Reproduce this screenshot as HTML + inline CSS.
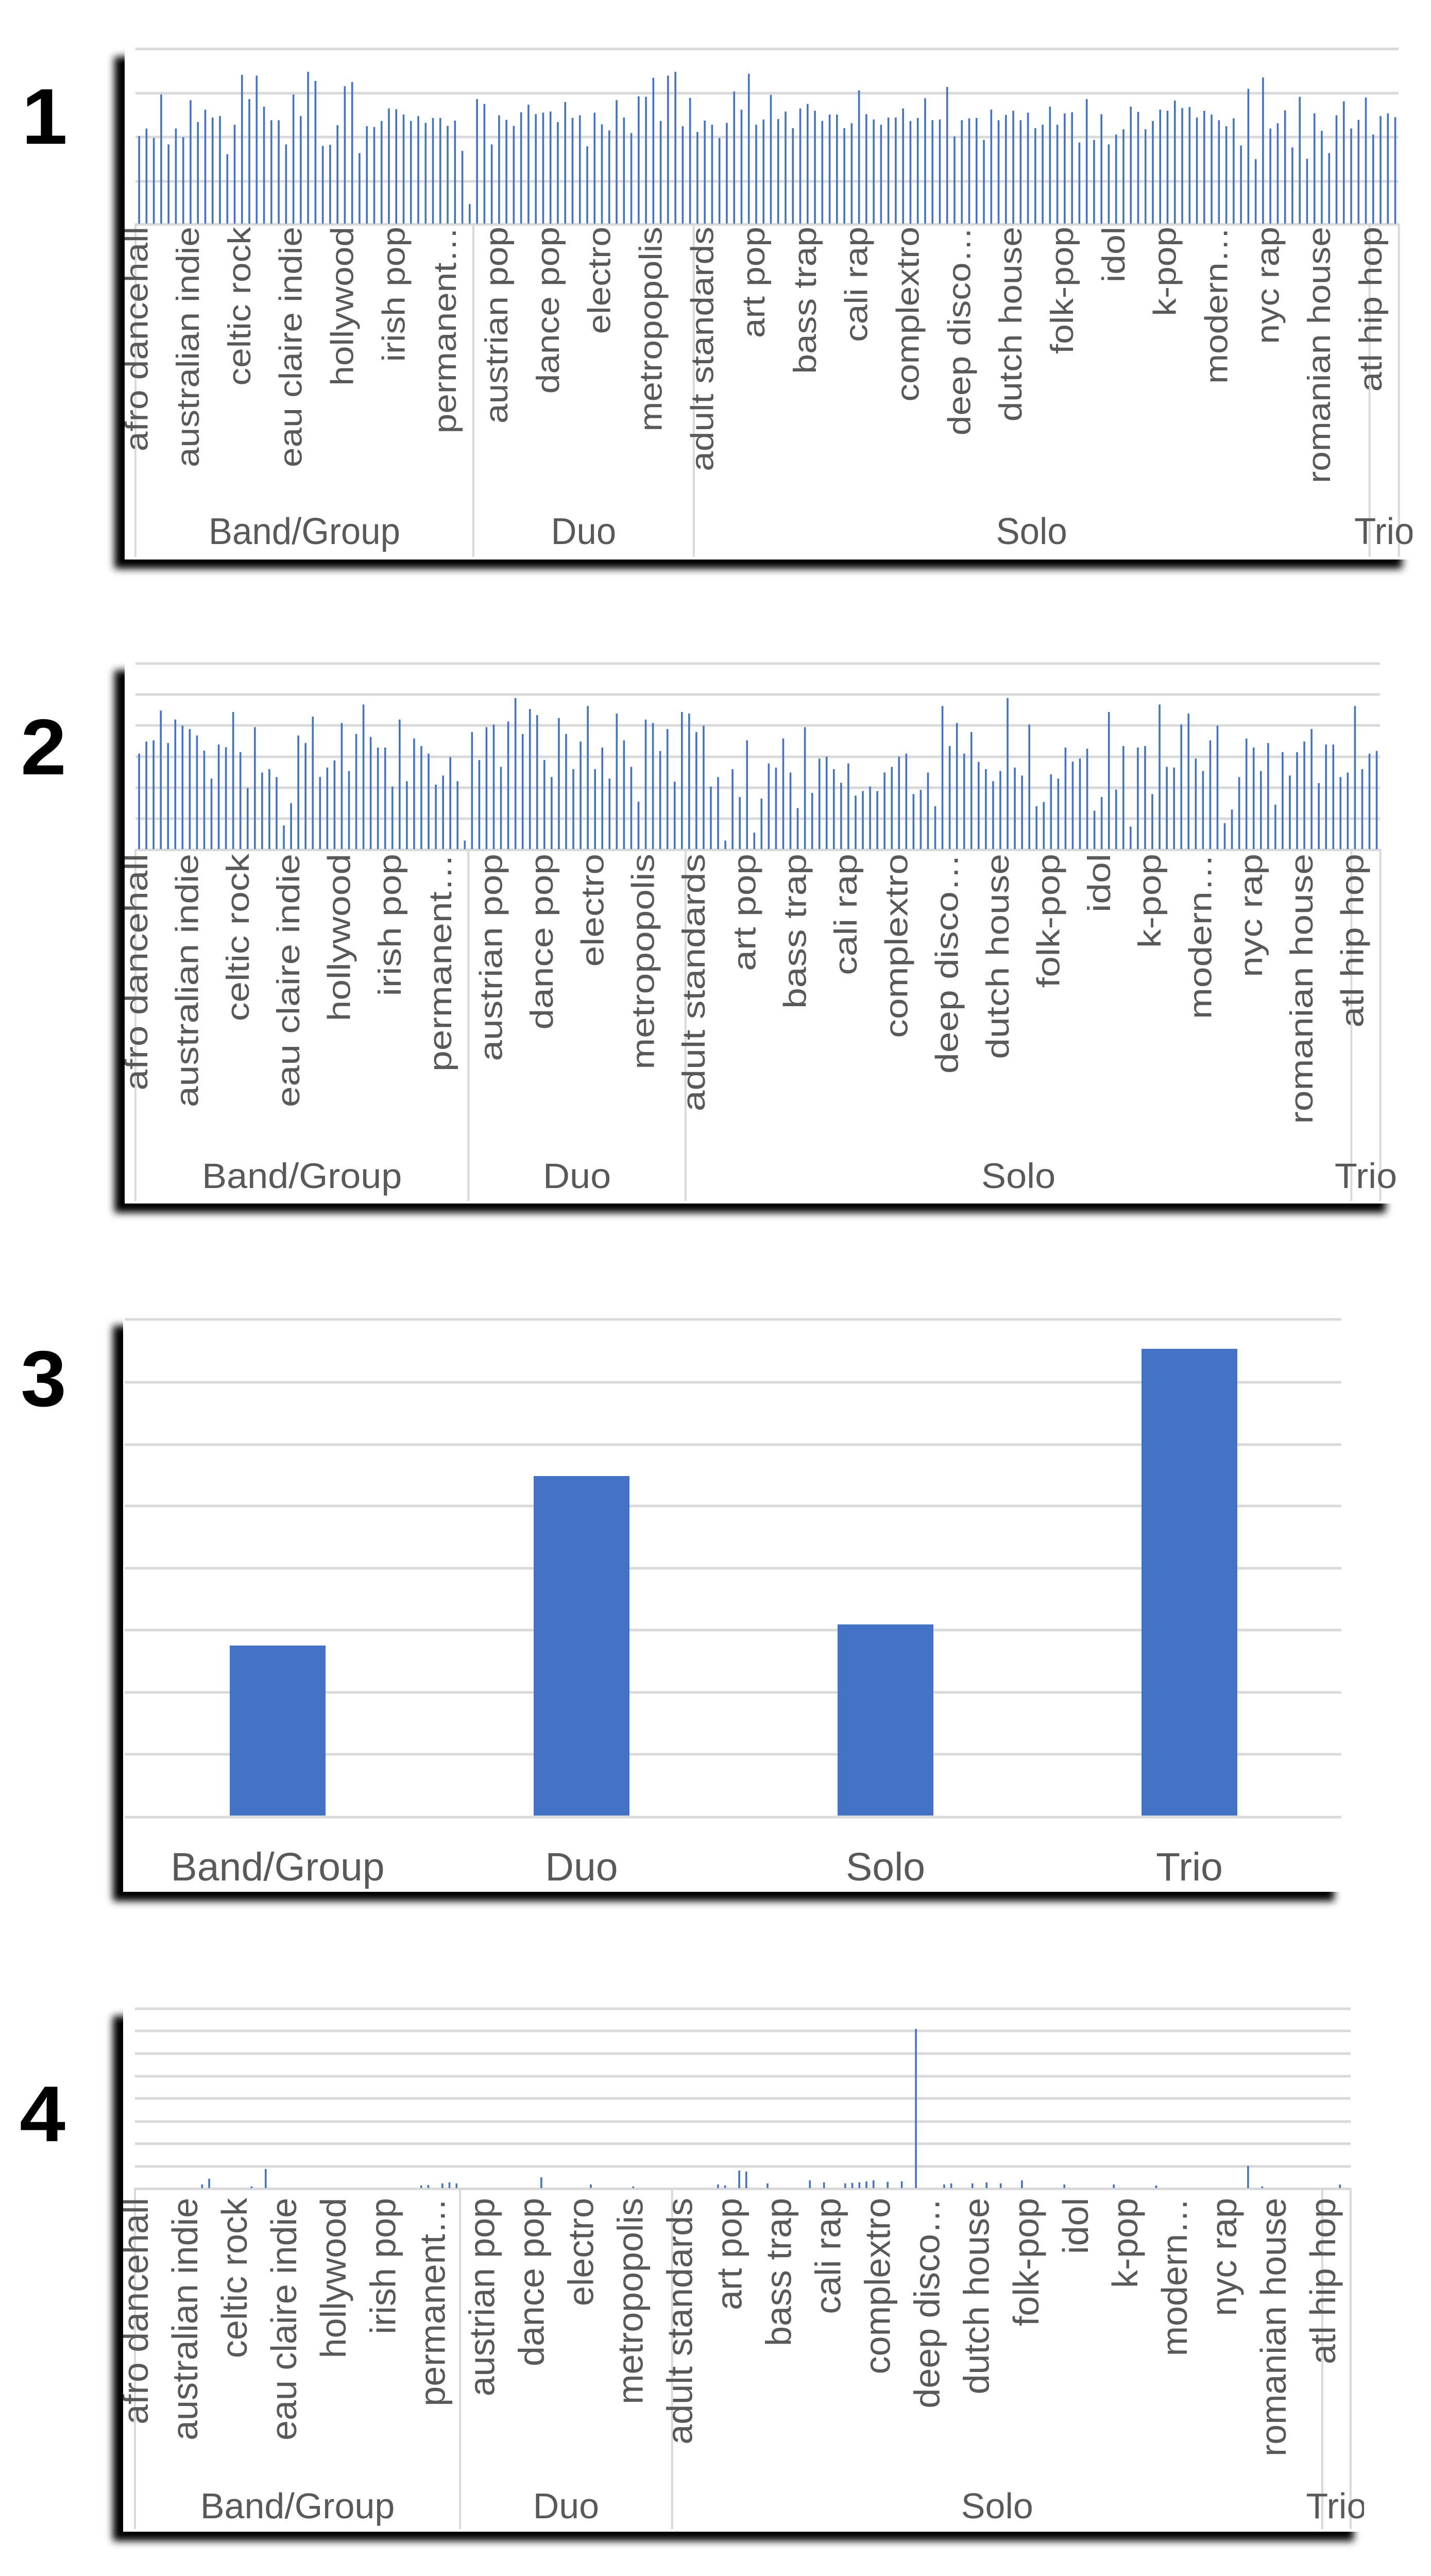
<!DOCTYPE html>
<html><head><meta charset="utf-8">
<style>
html,body{margin:0;padding:0;background:#fff;}
body{width:2778px;height:5025px;position:relative;overflow:hidden;}
.fr{position:absolute;background:#fff;box-shadow:-20px 18px 14px #000;}
svg{position:absolute;left:0;top:0;}
</style></head>
<body>
<div class="fr" style="left:242px;top:92px;width:2500px;height:994px"></div>
<div class="fr" style="left:242px;top:1283px;width:2468px;height:1053px"></div>
<div class="fr" style="left:239px;top:2555px;width:2371px;height:1117px"></div>
<div class="fr" style="left:239px;top:3895px;width:2409px;height:1019px"></div>
<svg id="s" width="2778" height="5025" xmlns="http://www.w3.org/2000/svg" font-family="Liberation Sans, Arial, sans-serif"></svg>
<script>
const NS="http://www.w3.org/2000/svg";
const svg=document.getElementById('s');
function el(tag,attrs,parent,text){const e=document.createElementNS(NS,tag);for(const k in attrs)e.setAttribute(k,attrs[k]);if(text!==undefined)e.textContent=text;(parent||svg).appendChild(e);return e;}
const labels=["afro dancehall","australian indie","celtic rock","eau claire indie","hollywood","irish pop","permanent…","austrian pop","dance pop","electro","metropopolis","adult standards","art pop","bass trap","cali rap","complextro","deep disco…","dutch house","folk-pop","idol","k-pop","modern…","nyc rap","romanian house","atl hip hop"];
const groups=[["Band/Group",0,46],["Duo",46,76],["Solo",76,168],["Trio",168,172]];
function fit(a,n){const r=[];for(let i=0;i<n;i++)r.push(a[i%a.length]);return r;}
const p1a=[360,340,365,250,382,340,363,265,323,290,311,307,408,330,198,262,200,282,318,318,382,250,307,190,214,386,383,331,228,217,405,334,336,320,287,289,303,320,307,325,312,312,333,319,399,540,262,275,382,305,317,333,297,277,302,298,295,323,270,312,305,387,298,329,345,265,311,352,255,256,206,320,200,190,334,259,349,319];
const p1b=[330,365,325,242,290,195,330,316,251,315,295,339,287,275,293,320,303,303,339,326,239,302,316,330,311,311,287,320,312,260,318,316,230,361,318,313,312,370,290,318,304,293,318,298,339,330,282,330,300,297,377,262,370,302,382,356,342,282,296,342,320,290,293,266,286,283,311,293,303,318,334,313,385,235,421,205,340,326,292,390,256,420,300,346,405,305,268,340,317,258,356,307,300,310];
const p1=fit(p1a.concat(p1b),172).map(v=>v/1.363);
const p2a=[290,258,255,176,262,200,216,225,242,282,356,266,273,180,286,381,220,340,331,352,480,421,242,262,192,352,327,308,209,336,238,160,246,274,274,377,200,363,250,270,290,372,348,299,363,520,233,307,220,213,325,205,143,238,172,188,307,352,196,238,331,258,164,331,274,356,184,255,325,417,200,209,283,225,364,180,184,233,216,377];
const p2b=[352,520,331,405,255,499,409,316,327,250,340,434,220,394,303,298,331,367,316,401,389,377,389,340,325,298,290,397,386,340,429,164,270,209,290,233,312,331,363,336,143,327,348,213,429,418,345,356,274,311,303,277,441,405,180,385,270,483,274,270,397,160,325,327,213,184,303,336,255,216,474,438,352,250,274,336,262,425,286,348,286,258,225,368,266,266,352,340,164,331,290,283];
const p2=fit(p2a.concat(p2b),172).map(v=>1250+v/1.363);
const p4=new Array(172).fill(null);
const sm={9:4240,10:4229,18:4210,16:4244,40:4242,41:4241,43:4238,44:4236,45:4238,57:4226,64:4240,70:4244,82:4240,83:4242,85:4213,86:4215,89:4238,95:4232,97:4236,100:4238,101:4237,102:4236,103:4234,104:4232,106:4235,108:4234,110:3938,114:4240,115:4238,118:4238,120:4236,122:4238,125:4232,131:4240,138:4240,144:4242,157:4204,159:4244,170:4240};
for(const k in sm)p4[k]=sm[k];
const P=[
 {gx0:263,gx1:2715,step:14.26,grid:[95,181,266,352],base:434,bars:p1,bot:1086,tickTop:440,tf:62,ts:1.12,gy:1056,gf:69,gs:1.05,clip:[242,92,2500,994],num:"1",nx:42,ny:279,ns:0.96},
 {gx0:263,gx1:2679,step:14.05,grid:[1288,1348,1408,1469,1529,1589],base:1648,bars:p2,bot:2336,tickTop:1657,tf:62,ts:1.18,gy:2306,gf:72,gs:0.95,clip:[242,1283,2468,1053],num:"2",nx:40,ny:1503,ns:0.96},
 {gx0:262,gx1:2622,step:13.72,grid:[3899,3942,3986,4030,4073,4118,4161,4205],base:4247,bars:p4,bot:4914,tickTop:4266,tf:70,ts:1.0,gy:4888,gf:70,gs:1.0,clip:[239,3895,2409,1019],num:"4",nx:38,ny:4156,ns:0.96}
];
const GRID="#d9d9d9",BLUE="#4472c4",TXT="#595959";
P.forEach((p,pi)=>{
  const cid="c"+pi;
  const cp=el('clipPath',{id:cid});el('rect',{x:p.clip[0],y:p.clip[1],width:p.clip[2],height:p.clip[3]},cp);
  const g=el('g',{'clip-path':'url(#'+cid+')'});
  p.grid.forEach(y=>el('rect',{x:p.gx0,y:y-2.5,width:p.gx1-p.gx0,height:5,fill:GRID},g));
  el('rect',{x:p.gx0,y:p.base-1,width:p.gx1-p.gx0,height:5,fill:GRID},g);
  p.bars.forEach((t,i)=>{if(t==null)return;const x=p.gx0+(i+0.5)*p.step-1.8;el('rect',{x:x,y:t,width:3.6,height:p.base-t,fill:BLUE},g);});
  const seps=[0,46,76,168,172];
  seps.forEach(c=>{const x=p.gx0+c*p.step;el('rect',{x:x-2,y:p.base,width:4,height:p.bot-p.base-5,fill:GRID},g);});
  labels.forEach((l,i)=>{const cx=p.gx0+(7*i+0.5)*p.step;const x=cx+0.26*p.tf;
    el('text',{transform:`translate(${x.toFixed(1)},${p.tickTop}) scale(1,${p.ts}) rotate(-90)`,'text-anchor':'end','font-size':p.tf,fill:TXT},g,l);});
  groups.forEach(gr=>{const cx=p.gx0+(gr[1]+gr[2])/2*p.step;
    el('text',{transform:`translate(${cx.toFixed(1)},${p.gy}) scale(1,${p.gs})`,'text-anchor':'middle','font-size':p.gf,fill:TXT},g,gr[0]);});
  el('text',{transform:`translate(${p.nx},${p.ny}) scale(1,${p.ns})`,'font-size':160,'font-weight':'bold',fill:'#000'},svg,p.num);
});
(function(){
  const grid=[2561,2683,2804,2923,3044,3164,3285,3405,3527];
  grid.forEach(y=>el('rect',{x:242,y:y-2.5,width:2362,height:5,fill:GRID}));
  const bars=[[446,3194,"Band/Group"],[1036,2865,"Duo"],[1626,3153,"Solo"],[2216,2618,"Trio"]];
  bars.forEach(b=>{el('rect',{x:b[0],y:b[1],width:186,height:3524-b[1],fill:BLUE});
    el('text',{x:b[0]+93,y:3650,'text-anchor':'middle','font-size':77,fill:TXT},svg,b[2]);});
  el('text',{transform:'translate(40,2729) scale(1,0.96)','font-size':160,'font-weight':'bold',fill:'#000'},svg,"3");
})();
</script>
</body></html>
